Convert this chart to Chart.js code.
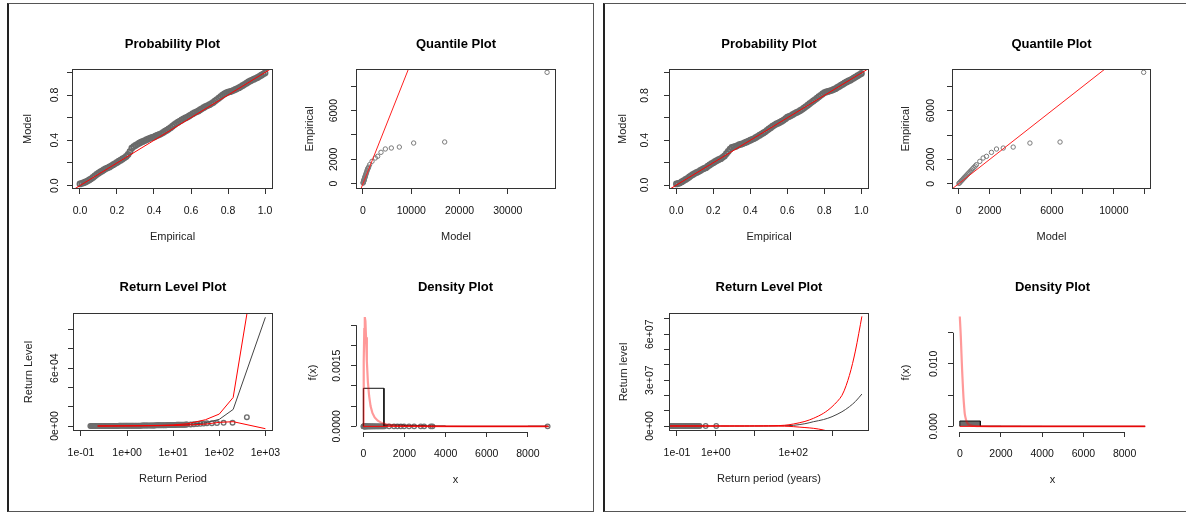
<!DOCTYPE html>
<html>
<head>
<meta charset="utf-8">
<script src="https://cdn.jsdelivr.net/npm/chart.js@4.4.1/dist/chart.umd.min.js"></script>
<style>
  body { margin: 0; background: #fff; width: 1186px; height: 512px; overflow: hidden; position: relative; }
  .panel { position: absolute; border: 1px solid #555; box-sizing: border-box; }
  canvas { position: absolute; }
</style>
</head>
<body>
<div class="panel" style="left:7px;top:3px;width:587px;height:509px;border-left:2px solid #222"></div>
<div class="panel" style="left:603px;top:3px;width:620px;height:509px;border-left:2px solid #222"></div>
<script>
// ---- probability plots (empirical vs model) ----
const probEmp = [0,0.01,0.02,0.03,0.04,0.05,0.06,0.07,0.08,0.09,0.1,0.11,0.12,0.13,0.14,0.15,0.16,0.17,0.18,0.19,
  0.2,0.21,0.22,0.23,0.24,0.25,0.26,0.27,0.28,0.29,0.3,0.31,0.32,0.33,0.34,0.35,0.36,0.37,0.38,0.39,
  0.4,0.41,0.42,0.43,0.44,0.45,0.46,0.47,0.48,0.49,0.5,0.51,0.52,0.53,0.54,0.55,0.56,0.57,0.58,0.59,
  0.6,0.61,0.62,0.63,0.64,0.65,0.66,0.67,0.68,0.69,0.7,0.71,0.72,0.73,0.74,0.75,0.76,0.77,0.78,0.79,
  0.8,0.81,0.82,0.83,0.84,0.85,0.86,0.87,0.88,0.89,0.9,0.91,0.92,0.93,0.94,0.95,0.96,0.97,0.98,0.99,1];
const probModL = [0.015,0.02,0.025,0.032,0.04,0.05,0.06,0.072,0.085,0.098,0.11,0.12,0.13,0.14,0.15,0.157,0.165,0.175,0.185,0.195,
  0.205,0.215,0.225,0.235,0.245,0.258,0.275,0.3,0.33,0.345,0.355,0.365,0.375,0.383,0.39,0.398,0.405,0.413,0.42,0.425,
  0.43,0.438,0.445,0.452,0.46,0.47,0.48,0.49,0.5,0.512,0.525,0.538,0.55,0.56,0.57,0.58,0.59,0.598,0.605,0.615,
  0.625,0.635,0.645,0.652,0.66,0.67,0.68,0.69,0.7,0.707,0.715,0.725,0.735,0.748,0.76,0.772,0.785,0.798,0.81,0.818,
  0.825,0.83,0.835,0.842,0.85,0.857,0.865,0.875,0.885,0.895,0.905,0.915,0.925,0.932,0.94,0.948,0.955,0.965,0.975,0.985,0.995];
const probModR = [0.01,0.015,0.02,0.03,0.04,0.05,0.06,0.072,0.085,0.095,0.105,0.113,0.12,0.13,0.14,0.148,0.155,0.168,0.18,0.19,
  0.2,0.21,0.22,0.228,0.235,0.247,0.26,0.28,0.3,0.32,0.335,0.34,0.345,0.352,0.36,0.365,0.37,0.378,0.385,0.392,
  0.4,0.408,0.415,0.425,0.435,0.445,0.455,0.465,0.475,0.488,0.5,0.512,0.525,0.535,0.545,0.552,0.56,0.57,0.58,0.592,
  0.605,0.612,0.62,0.63,0.64,0.648,0.655,0.665,0.675,0.688,0.7,0.712,0.725,0.738,0.75,0.762,0.775,0.788,0.8,0.812,
  0.825,0.83,0.835,0.84,0.845,0.852,0.86,0.87,0.88,0.89,0.9,0.91,0.92,0.928,0.935,0.945,0.955,0.965,0.975,0.985,0.995];
const probDiag = [-0.2, 1.2];
const probTicks = [0, 0.2, 0.4, 0.6, 0.8, 1];
const probXLabels = ['0.0', '0.2', '0.4', '0.6', '0.8', '1.0'];
const probYLabels = ['0.0', '', '0.4', '', '0.8', ''];

// ---- quantile plots (model vs empirical) ----
const quanModL = [20,50,80,110,140,170,200,240,280,320,360,400,450,500,560,620,690,760,840,920,1000,1080,1175,1380,1870,2560,3040,3730,4630,5870,7530,10500,16930,38150];
const quanEmpL = [40,80,120,160,200,240,280,330,380,430,480,530,590,650,720,800,880,960,1060,1150,1230,1300,1370,1560,1835,2110,2250,2575,2850,2930,3010,3340,3425,9150];
const quanModR = [10,50,100,150,200,250,300,350,400,450,500,560,620,680,750,820,900,980,1060,1140,1360,1573,1790,2110,2435,2870,3510,4590,6530,11920];
const quanEmpR = [20,70,140,210,280,345,415,480,550,615,690,770,850,930,1030,1120,1230,1340,1450,1560,1835,2110,2250,2575,2850,2930,3010,3340,3425,9150];
const quanDiag = [-3000, 45000];
const quanYTicks = [0, 2000, 4000, 6000, 8000];
const quanYLabels = ['0', '2000', '', '6000', ''];
const quanXTicksL = [0, 10000, 20000, 30000];
const quanXLabelsL = ['0', '10000', '20000', '30000'];
const quanXTicksR = [0, 2000, 4000, 6000, 8000, 10000, 12000];
const quanXLabelsR = ['0', '2000', '', '6000', '', '10000', ''];

// ---- return level plots ----
const rlObsPeriodL = [0.16,0.17,0.18,0.19,0.2,0.21,0.22,0.235,0.25,0.265,0.28,0.3,0.32,0.34,0.36,0.38,0.4,0.425,0.45,0.475,
  0.5,0.53,0.56,0.6,0.63,0.67,0.71,0.75,0.8,0.85,0.9,0.95,1.0,1.06,1.12,1.19,1.26,1.33,1.41,1.5,
  1.58,1.68,1.78,1.88,2.0,2.11,2.24,2.37,2.5,2.66,2.8,3.0,3.2,3.4,3.6,3.8,4.0,4.25,4.5,4.75,
  5.0,5.3,5.6,6.0,6.3,6.7,7.1,7.5,8.0,8.5,9.0,9.5,10,10.6,11.2,11.9,12.6,13.3,14.1,15,
  16,17,18,19,20,24,28,33,39,46,54,69,89,124,194,396];
const rlObsL = [10,15,20,25,30,35,40,45,50,55,60,65,70,75,80,85,90,95,100,105,
  110,115,120,130,140,150,160,170,180,190,200,210,220,230,240,255,270,285,300,315,
  330,345,360,380,400,420,440,460,480,500,520,540,560,580,600,620,640,665,690,715,
  740,765,790,820,850,880,910,940,970,1000,1030,1065,1100,1135,1170,1205,1240,1270,1300,1335,
  1370,1395,1420,1450,1480,1560,1835,2110,2250,2575,2850,2930,3010,3340,3425,9150];
const rlPeriodL = [0.23, 0.5, 1, 2, 5, 10, 20, 50, 100, 200, 1000];
const rlFitL = [0, 60, 150, 260, 480, 800, 1400, 3300, 6900, 17200, 112700];
const rlUpperL = [0, 80, 200, 350, 650, 1100, 2300, 6500, 12400, 29600, 233000];
const rlLowerL = [0, 40, 100, 170, 300, 500, 900, 2000, 3800, 4480, -2760];
const rlXTicks = [0.1, 1, 10, 100, 1000];
const rlXLabelsL = ['1e-01', '1e+00', '1e+01', '1e+02', '1e+03'];
const rlYTicksL = [0, 20000, 40000, 60000, 80000, 100000];
const rlYLabelsL = ['0e+00', '', '', '6e+04', '', ''];

const rlObsPeriodR = [0.066,0.068,0.07,0.072,0.074,0.076,0.078,0.08,0.083,0.086,0.088,0.091,0.094,0.097,0.1,0.105,0.11,0.115,0.12,0.125,
  0.13,0.138,0.145,0.152,0.16,0.17,0.18,0.19,0.2,0.215,0.23,0.245,0.26,0.28,0.3,0.32,0.34,0.36,0.385,0.55,1.03];
const rlObsR = [10,30,50,75,100,125,150,175,200,225,250,275,300,340,380,420,460,505,550,600,
  660,730,800,870,950,1050,1150,1260,1370,1460,1560,1700,1835,2040,2250,2550,2850,2930,3010,3425,9150];
const rlPeriodR = [0.05, 0.1, 0.3, 1, 3, 10, 30, 60, 100, 200, 330, 600, 1000, 1800, 2800, 4000, 5900];
const rlFitR = [0, 0, 0, 0, 0, 2e4, 8e4, 2e5, 4.3e5, 1.5e6, 2.8e6, 4.2e6, 6.1e6, 9.3e6, 1.26e7, 1.6e7, 2.09e7];
const rlUpperR = [0, 0, 0, 0, 0, 3e4, 1.5e5, 5e5, 1.3e6, 3e6, 5e6, 8.3e6, 1.26e7, 2e7, 3.3e7, 4.9e7, 7.17e7];
const rlLowerR = [0, 0, 0, 0, 0, 1e4, 0, -1e5, -4e5, -1e6, -1.5e6, -2.6e6, -4.5e6, -9e6, -1.4e7, -2e7, -2.8e7];
const rlXLabelsR = ['1e-01', '1e+00', '', '1e+02', ''];
const rlYTicksR = [0, 1e7, 2e7, 3e7, 4e7, 5e7, 6e7, 7e7];
const rlYLabelsR = ['0e+00', '', '', '3e+07', '', '', '6e+07', ''];

// ---- density plots ----
const histBreaksL = [0, 1000, 2000, 3000, 4000, 8000, 9000];
const histDensL = [0.00094, 0.00003, 0.000015, 0.000008, 0, 0.000004];
const denKdeXL = [0,10,25,45,70,100,130,170,220,280,350,440,550,700,900,1200,1600,2200,3000,5000,9000];
const denKdeYL = [0,0.0006,0.0016,0.0024,0.0027,0.0026,0.0022,0.0016,0.0011,0.00075,0.0005,0.00033,0.00022,0.00014,0.00008,0.00004,0.00002,0.00001,0.000004,0.000001,0];
const denFitXL = [0, 9000];
const denFitYL = [0, 0];
const denObsL = [5,15,25,35,45,60,70,80,90,100,115,130,145,160,180,200,220,240,265,290,315,340,370,400,430,460,495,530,565,600,640,680,720,760,805,850,895,940,985,1030,
  1250,1490,1655,1820,1980,2220,2470,2790,2955,3280,3360,8960];
const denXTicks = [0, 2000, 4000, 6000, 8000];
const denXLabels = ['0', '2000', '4000', '6000', '8000'];
const denYTicksL = [0, 0.0005, 0.001, 0.0015, 0.002, 0.0025];
const denYLabelsL = ['0.0000', '', '', '0.0015', '', ''];

const histBreaksR = [0, 1000, 2000, 3000, 4000, 9000];
const histDensR = [0.00085, 0.00003, 0.000015, 0.000008, 0];
const denKdeXR = [0,25,50,80,113,145,177,210,242,290,339,420,532,700,1000,2000,9000];
const denKdeYR = [0.0176,0.016,0.0143,0.0117,0.009,0.0068,0.0047,0.0032,0.002,0.0012,0.0007,0.0003,0.00016,0.00005,0.00001,0,0];
const denFitXR = [0, 9000];
const denFitYR = [0, 0];
const denYTicksR = [0, 0.005, 0.01, 0.015];
const denYLabelsR = ['0.000', '', '0.010', ''];

// ---------------------------------------------------------------
const PL = 70, PT = 45, PR = 22, PB = 70;
const FONT = '"Liberation Sans", Arial, Helvetica, sans-serif';
Chart.defaults.font.family = FONT;

const pts = (xs, ys) => xs.map((x, i) => ({ x: x, y: ys[i] }));
const steps = (br, d) => {
  const out = [];
  d.forEach((h, i) => { out.push({ x: br[i], y: 0 }, { x: br[i], y: h }, { x: br[i + 1], y: h }, { x: br[i + 1], y: 0 }); });
  return out;
};
const circles = (data, col, r, bw) => ({ data: data, showLine: false, pointRadius: r, pointHoverRadius: r,
  pointBorderWidth: bw, pointBorderColor: col, pointBackgroundColor: 'rgba(0,0,0,0)' });
const line = (data, col, w, extra) => Object.assign({ data: data, showLine: true, pointRadius: 0, pointHoverRadius: 0,
  borderColor: col, borderWidth: w, fill: false, tension: 0 }, extra || {});

function axis(o, horizontal) {
  const tickMarks = { display: true, drawOnChartArea: false, drawTicks: true, tickLength: 5, color: '#333', lineWidth: 1 };
  const s = {
    type: o.log ? 'logarithmic' : 'linear',
    position: horizontal ? 'bottom' : 'left',
    min: o.min, max: o.max,
    afterBuildTicks: sc => { sc.ticks = o.ticks.map(v => ({ value: v })); },
    afterFit: sc => { if (horizontal) sc.height = PB; else sc.width = PL; },
    grid: tickMarks,
    border: { display: false },
    title: { display: true, text: o.title, color: '#222', font: { size: 11 } }
  };
  if (horizontal) {
    s.ticks = { autoSkip: false, maxRotation: 0, minRotation: 0, padding: 10.7, color: '#111', font: { size: 10.5 },
      callback: (v, i) => o.labels[i] };
    s.title.padding = { top: 0, bottom: PB - 48 - 6.6 };
  } else {
    s.ticks = { display: false };
    s.title.padding = { top: PL - o.titleOff - 6.6, bottom: 0 };
  }
  return s;
}

function rplot(box, o) {
  const [l, t, r, b] = box;
  const w = r - l + PL + PR, h = b - t + PT + PB;
  const cv = document.createElement('canvas');
  cv.width = w; cv.height = h;
  Object.assign(cv.style, { left: (l - PL) + 'px', top: (t - PT) + 'px', width: w + 'px', height: h + 'px' });
  document.body.appendChild(cv);

  // box / axis lines and rotated y tick labels, R style
  const frame = {
    id: 'rframe',
    afterDraw(chart) {
      const ctx = chart.ctx, a = chart.chartArea, xs = chart.scales.x, ys = chart.scales.y;
      ctx.save();
      ctx.strokeStyle = '#333';
      ctx.lineWidth = 1;
      if (o.box) {
        ctx.strokeRect(Math.round(a.left) + 0.5, Math.round(a.top) + 0.5,
          Math.round(a.right - a.left) - 1, Math.round(a.bottom - a.top) - 1);
      } else {
        const xl = Math.round(a.left) + 0.5, yb = Math.round(a.bottom) + 0.5;
        const yt = o.y.ticks, xt = o.x.ticks;
        ctx.beginPath();
        ctx.moveTo(xl, ys.getPixelForValue(yt[0])); ctx.lineTo(xl, ys.getPixelForValue(yt[yt.length - 1]));
        ctx.moveTo(xs.getPixelForValue(xt[0]), yb); ctx.lineTo(xs.getPixelForValue(xt[xt.length - 1]), yb);
        ctx.stroke();
      }
      ctx.fillStyle = '#111';
      ctx.font = '10.5px ' + FONT;
      ctx.textAlign = 'center';
      ctx.textBaseline = 'middle';
      ys.ticks.forEach((tk, i) => {
        const lab = o.y.labels[i];
        if (!lab) return;
        ctx.save();
        ctx.translate(a.left - o.y.labOff, ys.getPixelForValue(tk.value));
        ctx.rotate(-Math.PI / 2);
        ctx.fillText(lab, 0, 0);
        ctx.restore();
      });
      ctx.restore();
    }
  };

  return new Chart(cv, {
    type: 'scatter',
    data: { datasets: o.datasets },
    options: {
      responsive: false, animation: false, devicePixelRatio: 1,
      layout: { padding: { left: 0, top: 0, right: PR, bottom: 0 } },
      plugins: {
        legend: { display: false },
        tooltip: { enabled: false },
        title: { display: true, text: o.title, fullSize: false, color: '#000',
          font: { size: 13, weight: 'bold' },
          padding: { top: PT - o.titleOff - 7.8, bottom: o.titleOff - 7.8 } }
      },
      scales: { x: axis(o.x, true), y: axis(o.y, false) }
    },
    plugins: [frame]
  });
}

const GREY = '#6a6a6a';

// left panel
rplot([72, 69, 273, 189], {
  title: 'Probability Plot', titleOff: 24.5, box: true,
  x: { min: -0.043, max: 1.043, ticks: probTicks, labels: probXLabels, title: 'Empirical' },
  y: { min: -0.03, max: 1.03, ticks: probTicks, labels: probYLabels, title: 'Model', titleOff: 44, labOff: 17 },
  datasets: [line(pts(probDiag, probDiag), '#ff0000', 1), circles(pts(probEmp, probModL), GREY, 2.5, 1.8)]
});
rplot([356, 69, 556, 189], {
  title: 'Quantile Plot', titleOff: 24.5, box: true,
  x: { min: -1450, max: 40000, ticks: quanXTicksL, labels: quanXLabelsL, title: 'Model' },
  y: { min: -440, max: 9425, ticks: quanYTicks, labels: quanYLabels, title: 'Empirical', titleOff: 46, labOff: 22 },
  datasets: [line(pts(quanDiag, quanDiag), '#ff2020', 1), circles(pts(quanModL, quanEmpL), '#7a7a7a', 2.2, 1)]
});
rplot([73, 313, 273, 431], {
  title: 'Return Level Plot', titleOff: 25.5, box: true,
  x: { log: true, min: 0.0671, max: 1462, ticks: rlXTicks, labels: rlXLabelsL, title: 'Return Period' },
  y: { min: -5170, max: 117170, ticks: rlYTicksL, labels: rlYLabelsL, title: 'Return Level', titleOff: 44, labOff: 18 },
  datasets: [
    line(pts(rlPeriodL, rlUpperL), '#ff0000', 1),
    line(pts(rlPeriodL, rlLowerL), '#ff0000', 1),
    line(pts(rlPeriodL, rlFitL), '#444', 1),
    circles(pts(rlObsPeriodL, rlObsL), '#6e6e6e', 2.3, 1.4)
  ]
});
rplot([356, 313, 555, 432], {
  title: 'Density Plot', titleOff: 25.5, box: false,
  x: { min: -358, max: 9318, ticks: denXTicks, labels: denXLabels, title: 'x' },
  y: { min: -0.00014, max: 0.0028, ticks: denYTicksL, labels: denYLabelsL, title: 'f(x)', titleOff: 43, labOff: 19 },
  datasets: [
    line(pts(denFitXL, denFitYL), '#ff0000', 1),
    line(pts(denKdeXL, denKdeYL), 'rgba(255,0,0,0.4)', 2.2),
    line(steps(histBreaksL, histDensL), '#111', 1),
    circles(denObsL.map(v => ({ x: v, y: 0 })), '#707070', 2.3, 1.3)
  ]
});

// right panel
rplot([669, 69, 869, 189], {
  title: 'Probability Plot', titleOff: 24.5, box: true,
  x: { min: -0.04, max: 1.041, ticks: probTicks, labels: probXLabels, title: 'Empirical' },
  y: { min: -0.035, max: 1.035, ticks: probTicks, labels: probYLabels, title: 'Model', titleOff: 46, labOff: 24 },
  datasets: [line(pts(probDiag, probDiag), '#ff0000', 1), circles(pts(probEmp, probModR), GREY, 2.5, 1.8)]
});
rplot([952, 69, 1151, 189], {
  title: 'Quantile Plot', titleOff: 24.5, box: true,
  x: { min: -433, max: 12392, ticks: quanXTicksR, labels: quanXLabelsR, title: 'Model' },
  y: { min: -435, max: 9425, ticks: quanYTicks, labels: quanYLabels, title: 'Empirical', titleOff: 46, labOff: 21 },
  datasets: [line(pts(quanDiag, quanDiag), '#ff2020', 1), circles(pts(quanModR, quanEmpR), '#7a7a7a', 2.2, 1)]
});
rplot([669, 313, 869, 431], {
  title: 'Return Level Plot', titleOff: 25.5, box: true,
  x: { log: true, min: 0.0622, max: 8995, ticks: rlXTicks, labels: rlXLabelsR, title: 'Return period (years)' },
  y: { min: -3.26e6, max: 7.39e7, ticks: rlYTicksR, labels: rlYLabelsR, title: 'Return level', titleOff: 45, labOff: 19 },
  datasets: [
    line(pts(rlPeriodR, rlUpperR), '#ff0000', 1, { tension: 0.3 }),
    line(pts(rlPeriodR, rlLowerR), '#ff0000', 1, { tension: 0.3 }),
    line(pts(rlPeriodR, rlFitR), '#444', 1, { tension: 0.3 }),
    circles(pts(rlObsPeriodR, rlObsR), '#6e6e6e', 2.3, 1.2)
  ]
});
rplot([953, 313, 1152, 432], {
  title: 'Density Plot', titleOff: 25.5, box: false,
  x: { min: -330, max: 9330, ticks: denXTicks, labels: denXLabels, title: 'x' },
  y: { min: -0.00091, max: 0.01816, ticks: denYTicksR, labels: denYLabelsR, title: 'f(x)', titleOff: 47, labOff: 19 },
  datasets: [
    line(pts(denFitXR, denFitYR), '#ff0000', 1),
    line(pts(denKdeXR, denKdeYR), 'rgba(255,0,0,0.4)', 2.2, { tension: 0.3 }),
    line(steps(histBreaksR, histDensR), '#111', 1, { fill: 'origin', backgroundColor: '#6b6b6b' })
  ]
});
</script>
</body>
</html>
